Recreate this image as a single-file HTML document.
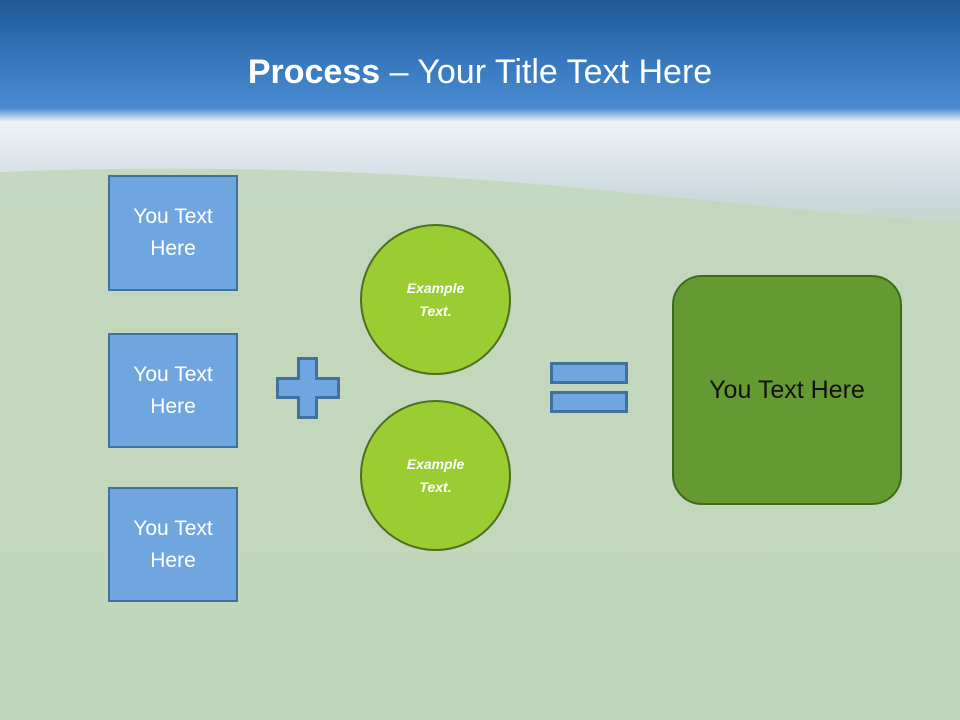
<!DOCTYPE html>
<html><head><style>
body{margin:0;width:960px;height:720px;overflow:hidden;position:relative;font-family:"Liberation Sans",sans-serif;}
.bg{position:absolute;left:0;top:0;width:960px;height:720px;background:linear-gradient(#1f5895 0px,#3677bd 60px,#4a8bd0 108px,#eef2f5 122px,#dde6ec 160px,#c9d8dc 200px,#c4d8c0 240px,#bdd3b5 450px,#b9d2ae 720px);}
.hill{position:absolute;left:0;top:0;width:960px;height:720px;}
.box{position:absolute;left:108px;width:126px;background:#6fa6df;border:2px solid #41729f;color:#fff;font-size:21px;text-align:center;display:flex;align-items:center;justify-content:center;line-height:32px;}
.c{position:absolute;border-radius:50%;background:#9acd32;border:2px solid #4f6e1e;color:#fff;font-style:italic;font-weight:bold;font-size:14px;text-align:center;display:flex;align-items:center;justify-content:center;line-height:23px;}
.b{position:absolute;background:#6fa6df;border:3px solid #41729f;box-sizing:border-box;}
</style></head><body>
<div class="bg"></div>
<svg class="hill" width="960" height="720"><path d="M0 172 Q300 160 600 190 T960 222 L960 720 L0 720Z" fill="#c2d7bc" opacity="0.9"/>
<path d="M298.5 358.5 H316.5 V378.5 H338.5 V397.5 H316.5 V417.5 H298.5 V397.5 H277.5 V378.5 H298.5 Z" fill="#6fa6df" stroke="#41729f" stroke-width="3"/></svg>
<div style="position:absolute;top:53px;width:960px;text-align:center;color:#fff;font-size:34px;"><b>Process</b> – Your Title Text Here</div>
<div class="box" style="top:175px;height:112px">You Text<br>Here</div>
<div class="box" style="top:333px;height:111px">You Text<br>Here</div>
<div class="box" style="top:487px;height:111px">You Text<br>Here</div>
<div class="b" style="left:550px;top:362px;width:78px;height:22px"></div>
<div class="b" style="left:550px;top:391px;width:78px;height:22px"></div>
<div class="c" style="left:360px;top:224px;width:147px;height:147px">Example<br>Text.</div>
<div class="c" style="left:360px;top:400px;width:147px;height:147px">Example<br>Text.</div>
<div style="position:absolute;left:672px;top:275px;width:226px;height:226px;background:#659a32;border:2px solid #3f6a1e;border-radius:30px;display:flex;align-items:center;justify-content:center;font-size:25px;color:#111;">You Text Here</div>
</body></html>
